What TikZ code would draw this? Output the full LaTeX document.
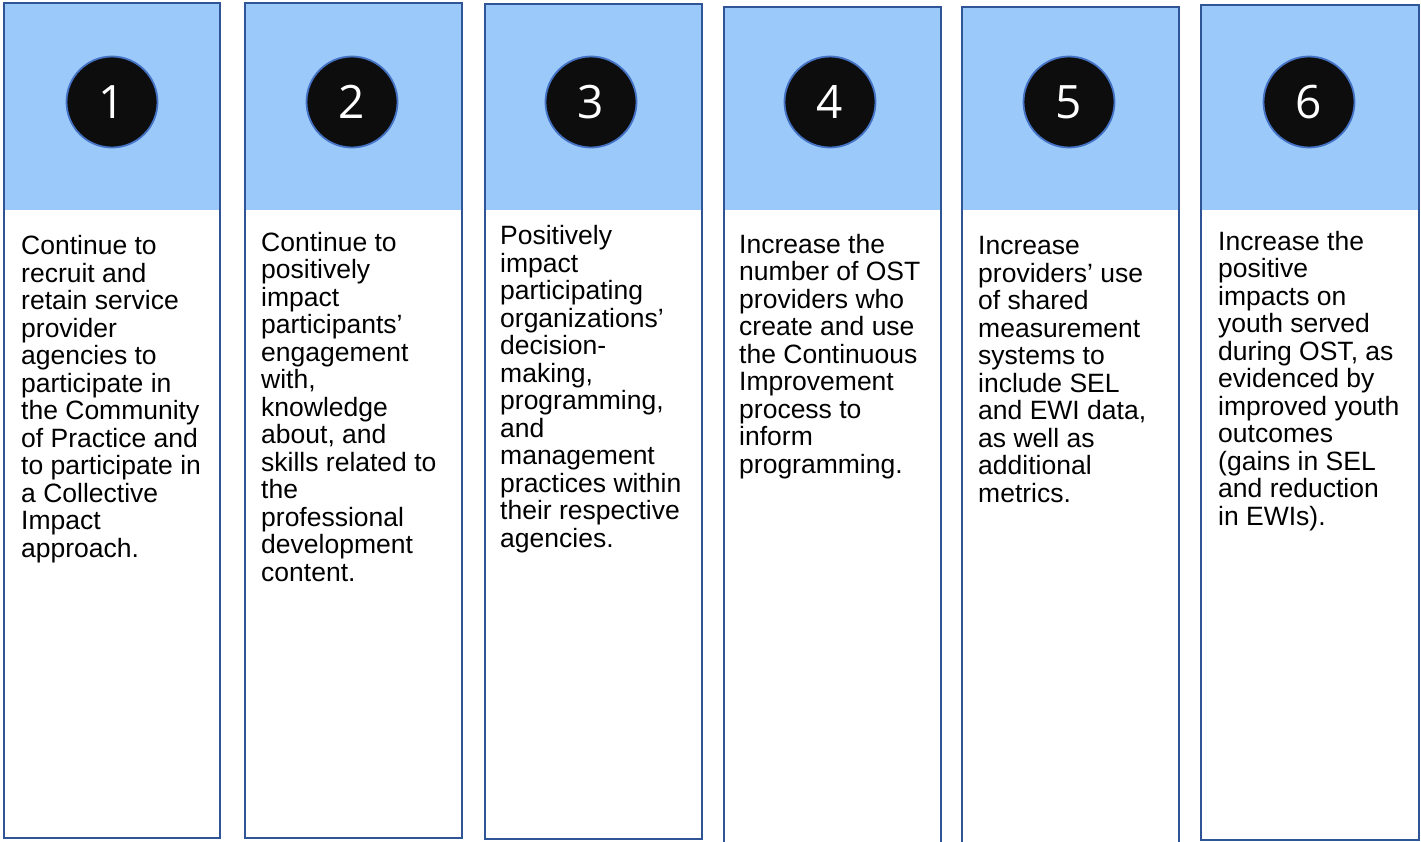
\documentclass[tikz,border=0pt]{standalone}
\usepackage{fontspec}
\setmainfont{Liberation Sans}
\newfontfamily\numfont{Open Sans}
\definecolor{headblue}{HTML}{9BC9FA}
\definecolor{edgeblue}{HTML}{2F5597}
\definecolor{ringblue}{HTML}{4472C4}
\definecolor{dotblack}{HTML}{0D0D0D}
\begin{document}
\begin{tikzpicture}[x=1pt,y=-1pt,
  colbox/.style={draw=edgeblue,line width=2.2pt},
  headfill/.style={fill=headblue},
  numdot/.style={circle,minimum size=91pt,inner sep=0pt,fill=dotblack,draw=ringblue,line width=1.8pt,text=white,font=\numfont\fontsize{46}{46}\selectfont},
  goaltext/.style={anchor=base west,align=left,inner sep=0pt,font=\fontsize{26.5}{27.5}\selectfont}]
\useasboundingbox (0,0) rectangle (1421,841);
% column headers
\fill[headfill] (4,3) rectangle (220,210);
\fill[headfill] (245,3) rectangle (462,210);
\fill[headfill] (485,4) rectangle (702,210);
\fill[headfill] (724,7) rectangle (941,210);
\fill[headfill] (962,7) rectangle (1179,210);
\fill[headfill] (1201,5) rectangle (1419,210);
% column frames
\draw[colbox] (4,3) rectangle (220,838);
\draw[colbox] (245,3) rectangle (462,838);
\draw[colbox] (485,4) rectangle (702,839);
\draw[colbox] (724,7) rectangle (941,850);
\draw[colbox] (962,7) rectangle (1179,850);
\draw[colbox] (1201,5) rectangle (1419,840);
% numbers
\node[numdot] at (112,102) (n1) {1};
\node[numdot] at (352,102) (n2) {2};
\node[numdot] at (591,102) (n3) {3};
\node[numdot] at (830,102) (n4) {4};
\node[numdot] at (1069,102) (n5) {5};
\node[numdot] at (1309,102) (n6) {6};
% goals (base = last line)
\node[goaltext] at (21,557) (g1) {Continue to\\recruit and\\retain service\\provider\\agencies to\\participate in\\the Community\\of Practice and\\to participate in\\a Collective\\Impact\\approach.};
\node[goaltext] at (261,581) (g2) {Continue to\\positively\\impact\\participants’\\engagement\\with,\\knowledge\\about, and\\skills related to\\the\\professional\\development\\content.};
\node[goaltext] at (500,547) (g3) {Positively\\impact\\participating\\organizations’\\decision-\\making,\\programming,\\and\\management\\practices within\\their respective\\agencies.};
\node[goaltext] at (739,473) (g4) {Increase the\\number of OST\\providers who\\create and use\\the Continuous\\Improvement\\process to\\inform\\programming.};
\node[goaltext] at (978,502) (g5) {Increase\\providers’ use\\of shared\\measurement\\systems to\\include SEL\\and EWI data,\\as well as\\additional\\metrics.};
\node[goaltext] at (1218,525) (g6) {Increase the\\positive\\impacts on\\youth served\\during OST, as\\evidenced by\\improved youth\\outcomes\\(gains in SEL\\and reduction\\in EWIs).};
\end{tikzpicture}
\end{document}
